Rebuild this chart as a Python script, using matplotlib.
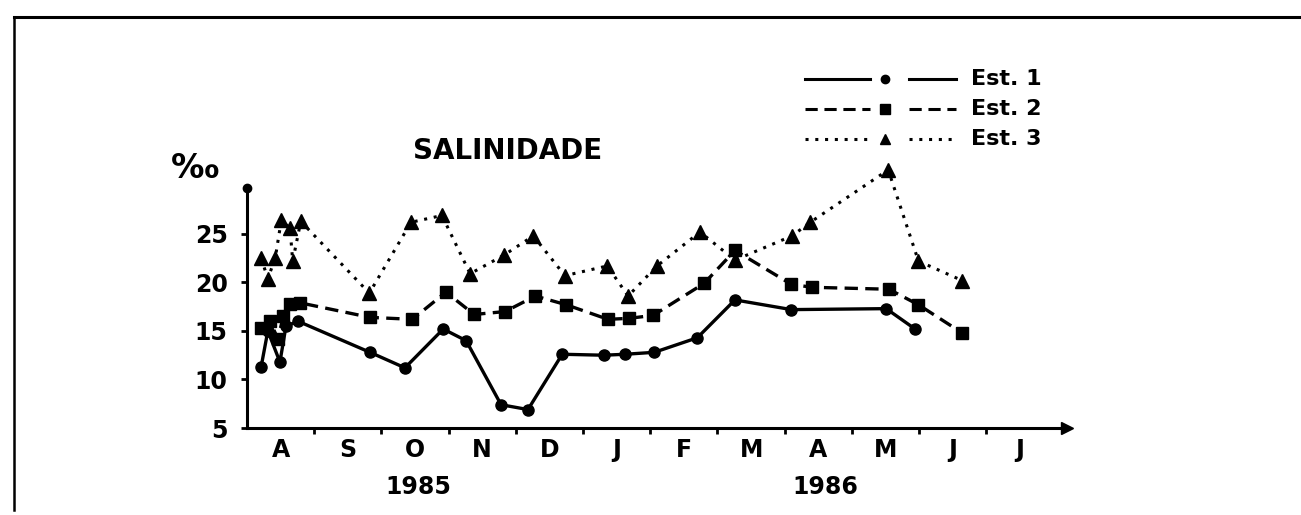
import matplotlib
matplotlib.use('Agg')
import matplotlib.pyplot as plt
from matplotlib.lines import Line2D
import matplotlib.transforms as mtrans

# ---------------- data (x = months since 1 Aug 1985) ----------------
months = ['A', 'S', 'O', 'N', 'D', 'J', 'F', 'M', 'A', 'M', 'J', 'J']
years = ['1985', '1986']
year_pos = [2.55, 8.6]

est1_x = [0.21, 0.31, 0.49, 0.58, 0.76, 1.83, 2.35, 2.92, 3.26, 3.78, 4.18, 4.69,
          5.31, 5.63, 6.06, 6.70, 7.26, 8.10, 9.51, 9.94]
est1_y = [11.3, 15.0, 11.8, 15.5, 16.0, 12.8, 11.2, 15.2, 14.0, 7.4, 6.9, 12.6,
          12.5, 12.6, 12.8, 14.3, 18.2, 17.2, 17.3, 15.2]

est2_x = [0.21, 0.34, 0.46, 0.54, 0.64, 0.79, 1.83, 2.46, 2.96, 3.38, 3.84, 4.29,
          4.75, 5.37, 5.68, 6.04, 6.80, 7.26, 8.10, 8.41, 9.55, 9.99, 10.64]
est2_y = [15.3, 16.0, 14.2, 16.5, 17.8, 17.9, 16.4, 16.2, 19.0, 16.7, 17.0, 18.6,
          17.7, 16.2, 16.3, 16.6, 19.9, 23.3, 19.8, 19.5, 19.3, 17.7, 14.8]

est3_x = [0.21, 0.31, 0.42, 0.51, 0.64, 0.68, 0.80, 1.82, 2.44, 2.90, 3.32, 3.82,
          4.26, 4.73, 5.36, 5.67, 6.10, 6.74, 7.26, 8.11, 8.38, 9.54, 9.99, 10.64]
est3_y = [22.5, 20.4, 22.5, 26.4, 25.6, 22.2, 26.3, 18.9, 26.2, 26.9, 20.9, 22.8,
          24.8, 20.7, 21.7, 18.6, 21.7, 25.2, 22.3, 24.8, 26.2, 31.6, 22.2, 20.2]

labels = ['Est. 1', 'Est. 2', 'Est. 3']

# ---------------- figure ----------------
W, H = 1301, 515
fig = plt.figure(figsize=(W / 100, H / 100), dpi=100)
fig.patch.set_facecolor('white')


def fx(px):
    return px / W


def fy(py):
    return 1 - py / H


ax = fig.add_axes([fx(247), fy(428), fx(1067 - 247), (428 - 166) / H])
ax.set_xlim(0, 12.2)
ax.set_ylim(5, 32)

for s in ['top', 'right']:
    ax.spines[s].set_visible(False)
ax.spines['left'].set_bounds(5, 29.7)
ax.spines['left'].set_linewidth(2.2)
ax.spines['bottom'].set_linewidth(2.2)

# arrow at end of x axis, dot at top of y axis
ax.plot(1, 5, '>k', ms=9,
        transform=mtrans.blended_transform_factory(ax.transAxes, ax.transData),
        clip_on=False)
ax.plot(0, 29.7, 'ok', ms=6, transform=ax.get_yaxis_transform(), clip_on=False)

tick_font = dict(fontsize=17, fontweight='bold', family='DejaVu Sans')
ax.set_yticks([5, 10, 15, 20, 25])
ax.set_yticklabels(['5', '10', '15', '20', '25'], **tick_font)
ax.tick_params(axis='y', direction='out', length=4, width=2, pad=10)

ax.set_xticks(range(1, 12))
ax.set_xticklabels([])
ax.tick_params(axis='x', which='major', direction='out', length=4, width=2)
ax.set_xticks([i + 0.5 for i in range(12)], minor=True)
ax.set_xticklabels(months, minor=True, **tick_font)
ax.tick_params(axis='x', which='minor', length=0, pad=7)

# series
ax.plot(est3_x, est3_y, color='k', lw=2.2, linestyle=(0, (1, 2.2)),
        marker='^', ms=9.5, clip_on=False)
ax.plot(est2_x, est2_y, color='k', lw=2.4, linestyle=(0, (4, 2.2)),
        marker='s', ms=9, clip_on=False)
ax.plot(est1_x, est1_y, color='k', lw=2.4, linestyle='-',
        marker='o', ms=8, clip_on=False)

# year labels
btrans = mtrans.blended_transform_factory(ax.transData, fig.transFigure)
for yl, xp in zip(years, year_pos):
    ax.text(xp, fy(487), yl, transform=btrans, ha='center', va='center', **tick_font)

# axis unit and title
fig.text(fx(195), fy(168), '‰', ha='center', va='center', fontsize=24,
         fontweight='bold', family='DejaVu Sans')
fig.text(fx(508), fy(151), 'SALINIDADE', ha='center', va='center', fontsize=20,
         fontweight='bold', family='DejaVu Sans')

# legend (drawn manually)
rows = [(79, '-', 'o', 6), (109, (0, (4, 2.2)), 's', 7), (139, (0, (1, 2.2)), '^', 7)]
for (yy, ls, mk, ms), lab in zip(rows, labels):
    fig.add_artist(Line2D([fx(805), fx(870)], [fy(yy), fy(yy)], color='k', lw=2.2,
                          linestyle=ls))
    fig.add_artist(Line2D([fx(909), fx(956)], [fy(yy), fy(yy)], color='k', lw=2.2,
                          linestyle=ls))
    fig.add_artist(Line2D([fx(885)], [fy(yy)], color='k', marker=mk, ms=ms,
                          linestyle='none'))
    fig.text(fx(971), fy(yy), lab, ha='left', va='center', fontsize=16,
             fontweight='bold', family='DejaVu Sans')

# page frame lines
fig.add_artist(Line2D([fx(14), fx(14)], [fy(17), fy(510)], color='k', lw=1.8))
fig.add_artist(Line2D([fx(14), 1.0], [fy(17), fy(17)], color='k', lw=2.2))

fig.savefig('out.png', dpi=100)
